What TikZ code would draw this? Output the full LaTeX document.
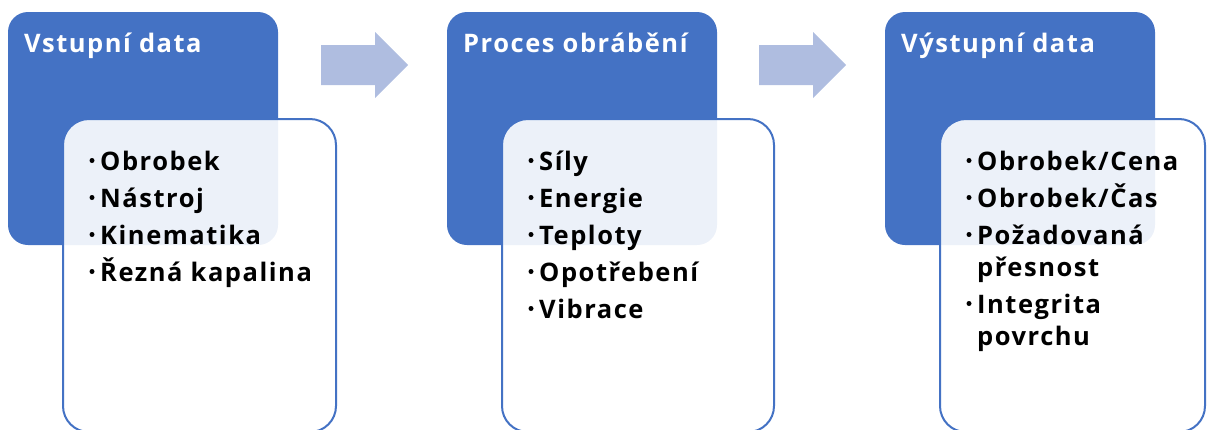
\documentclass[tikz,border=0pt]{standalone}
\usepackage{fontspec}
\setmainfont{Open Sans}[LetterSpace=6]
\definecolor{accent}{HTML}{4472C4}
\definecolor{arrowfill}{HTML}{AFBDE0}
\tikzset{
  headbox/.style={fill=accent, rounded corners=20pt},
  bodybox/.style={draw=accent, line width=2pt, fill=white, fill opacity=0.9, draw opacity=1, rounded corners=26pt},
  blockarrow/.style={fill=arrowfill},
  heading/.style={text=white, font=\fontsize{25.5}{30}\selectfont\bfseries, anchor=base west, inner sep=0pt},
  entry/.style={text=black, font=\fontsize{25.5}{30}\selectfont\bfseries, anchor=base west, inner sep=0pt},
  dot/.style={fill=black},
}
% a bulleted line: name, position, text
\newcommand\bulleted[3]{%
  \node[entry] (#1) at (#2) {#3};
  \fill[dot] ([shift={(-8pt,9.5pt)}]#1.base west) circle (2.5pt);}
\begin{document}
\begin{tikzpicture}[x=1pt, y=-1pt]
\useasboundingbox (0,0) rectangle (1207,429);

% coloured header panels
\path[headbox] (8,12) rectangle (278,245);
\path[headbox] (447,12) rectangle (717,245);
\path[headbox] (885,12) rectangle (1155,245);

% translucent content panels
\path[bodybox] (63,119) rectangle (336,432);
\path[bodybox] (502,119) rectangle (774,432);
\path[bodybox] (940,119) rectangle (1205,432);

% block arrows between the stages
\coordinate (a1) at (321,65);
\coordinate (a2) at (759,65);
\foreach \a in {a1,a2}{
  \fill[blockarrow] (\a) ++(0,-20) -- ++(54,0) -- ++(0,-13) -- ++(33,33)
        -- ++(-33,33) -- ++(0,-13) -- ++(-54,0) -- cycle;
}

% headings
\node[heading] (t1) at (24,52) {Vstupní data};
\node[heading] (t2) at (463,52) {Proces obrábění};
\node[heading] (t3) at (901,52) {Výstupní data};

% input data
\bulleted{i1}{100,170}{Obrobek}
\bulleted{i2}{100,207}{Nástroj}
\bulleted{i3}{100,244}{Kinematika}
\bulleted{i4}{100,281}{Řezná kapalina}

% machining process
\bulleted{p1}{539,170}{Síly}
\bulleted{p2}{539,207}{Energie}
\bulleted{p3}{539,244}{Teploty}
\bulleted{p4}{539,281}{Opotřebení}
\bulleted{p5}{539,318}{Vibrace}

% output data
\bulleted{o1}{977,170}{Obrobek/Cena}
\bulleted{o2}{977,207}{Obrobek/Čas}
\bulleted{o3}{977,244}{Požadovaná}
\node[entry] (o3b) at (977,276) {přesnost};
\bulleted{o4}{977,313}{Integrita}
\node[entry] (o4b) at (977,345) {povrchu};
\end{tikzpicture}
\end{document}
